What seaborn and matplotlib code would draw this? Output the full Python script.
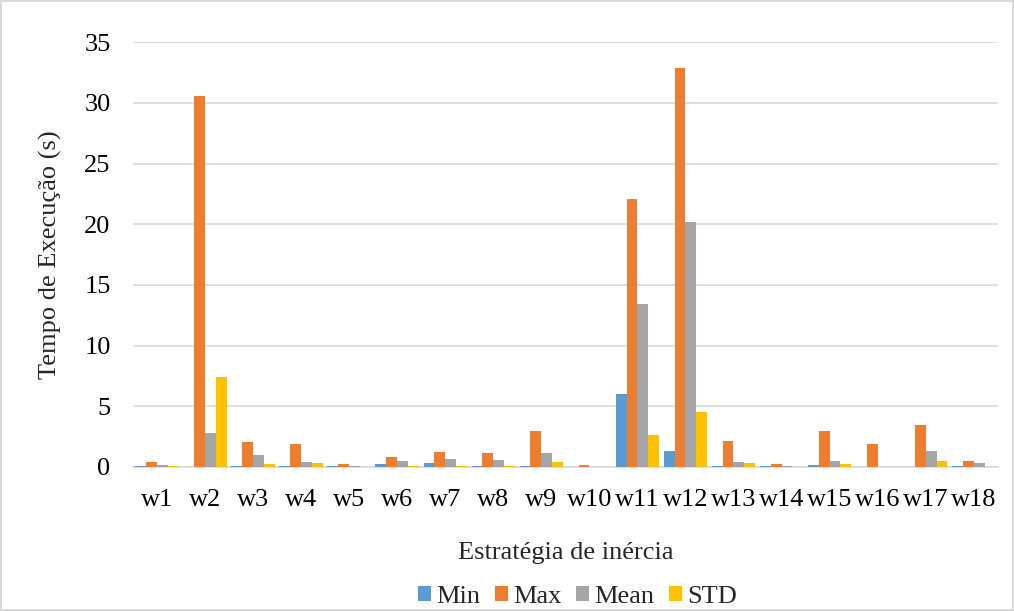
import matplotlib
matplotlib.use("Agg")
import matplotlib.pyplot as plt
import seaborn as sns
import pandas as pd

# Execution time per inertia strategy (seconds)
strategies = [f"w{i}" for i in range(1, 19)]
min_vals = [0.10, 0.00, 0.08, 0.05, 0.05, 0.22, 0.30, 0.05, 0.10, 0.00,
            6.05, 1.30, 0.05, 0.05, 0.15, 0.00, 0.00, 0.12]
max_vals = [0.42, 30.55, 2.08, 1.90, 0.27, 0.80, 1.23, 1.15, 3.00, 0.18,
            22.10, 32.85, 2.10, 0.22, 2.95, 1.90, 3.50, 0.50]
mean_vals = [0.17, 2.80, 1.00, 0.45, 0.10, 0.50, 0.65, 0.55, 1.15, 0.00,
             13.45, 20.20, 0.42, 0.10, 0.50, 0.00, 1.30, 0.30]
std_vals = [0.05, 7.40, 0.25, 0.35, 0.03, 0.05, 0.10, 0.10, 0.42, 0.00,
            2.60, 4.55, 0.33, 0.02, 0.27, 0.00, 0.50, 0.02]

series_names = ["Min", "Max", "Mean", "STD"]
series_colors = ["#5B9BD5", "#ED7D31", "#A5A5A5", "#FFC000"]

df = pd.DataFrame({
    "Estratégia": strategies * 4,
    "Série": sum([[n] * len(strategies) for n in series_names], []),
    "Tempo": min_vals + max_vals + mean_vals + std_vals,
})

sns.set_style("white")
plt.rcParams["font.family"] = ["Liberation Serif", "DejaVu Serif"]

fig = plt.figure(figsize=(10.14, 6.11), dpi=100)
fig.patch.set_facecolor("white")
fig.patch.set_edgecolor("#d9d9d9")
fig.patch.set_linewidth(1.5)
ax = fig.add_axes([0.131, 0.2357, 0.853, 0.6953])

sns.barplot(data=df, x="Estratégia", y="Tempo", hue="Série",
            palette=series_colors, hue_order=series_names, order=strategies,
            width=0.9, saturation=1, linewidth=0, ax=ax, legend=True,
            errorbar=None, zorder=3)

ax.set_ylim(0, 35)
ax.set_yticks(range(0, 36, 5))
ax.set_xlim(-0.5, len(strategies) - 0.5)
ax.yaxis.grid(True, color="#d9d9d9", linewidth=1.2, zorder=0)
ax.set_axisbelow(True)
for side in ["top", "right", "left"]:
    ax.spines[side].set_visible(False)
ax.spines["bottom"].set_color("#d9d9d9")
ax.spines["bottom"].set_linewidth(1.2)
ax.tick_params(axis="both", length=0, labelsize=19, colors="black")
ax.tick_params(axis="x", pad=16)
ax.tick_params(axis="y", pad=16)

ax.set_xlabel("Estratégia de inércia", fontsize=19, labelpad=22)
ax.set_ylabel("Tempo de Execução (s)", fontsize=19, labelpad=16)

handles, labels = ax.get_legend_handles_labels()
ax.legend(handles, labels, loc="center", bbox_to_anchor=(0.514, -0.305),
          ncol=4, frameon=False, fontsize=19, handlelength=0.5,
          handleheight=0.5, handletextpad=0.2, columnspacing=0.55)

fig.savefig("out.png", dpi=100, facecolor=fig.get_facecolor(),
            edgecolor=fig.get_edgecolor())
